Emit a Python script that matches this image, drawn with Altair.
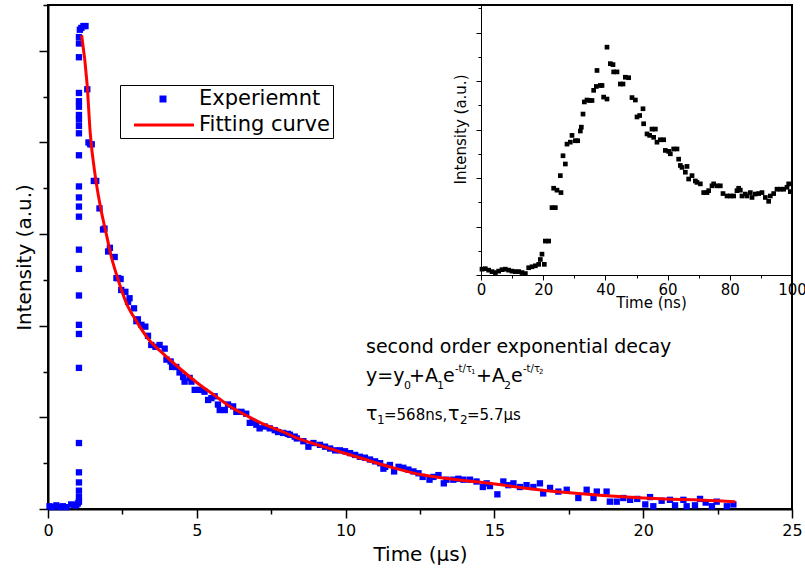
import altair as alt
import pandas as pd

FONT = "DejaVu Sans"

# ---------------- data ----------------
series_names = ["Experiemnt", "Fitting curve"]

exp_x = [0.05, 0.15, 0.28, 0.40, 0.50, 0.62, 0.78, 0.88, 0.95, 1.00,
         1.04, 1.04, 1.04, 1.04, 1.04, 1.04, 1.04, 1.04, 1.04, 1.04,
         1.04, 1.04, 1.04, 1.04, 1.04, 1.04, 1.04, 1.04, 1.04, 1.04,
         1.04, 1.04, 1.04, 1.04, 1.04, 1.04, 1.04,
         1.07, 1.12, 1.19, 1.26,
         1.32, 1.36, 1.42, 1.47, 1.54, 1.62, 1.73, 1.85, 1.90, 2.02,
         2.08, 2.24, 2.30, 2.36, 2.44, 2.46, 2.60, 2.69, 2.74, 2.89,
         2.97, 3.02, 3.14, 3.27, 3.36, 3.47, 3.61, 3.75, 3.92, 3.98,
         4.12, 4.17, 4.31, 4.42, 4.54, 4.59, 4.76, 4.82, 4.93, 5.10,
         5.26, 5.38, 5.49, 5.60, 5.71, 5.77, 5.94, 6.05, 6.22, 6.33,
         6.50, 6.66, 6.78, 6.89, 7.00, 7.11, 7.28, 7.45, 7.62, 7.73,
         7.90, 8.06, 8.13, 8.29, 8.36, 8.58, 8.75, 8.92, 9.14, 9.31,
         9.48, 9.65, 9.81, 9.98, 10.15, 10.32, 10.48, 10.65, 10.82, 10.99,
         11.16, 11.27, 11.33, 11.49, 11.63, 11.78, 11.94, 12.11, 12.28, 12.45,
         12.59, 12.82, 12.95, 13.12, 13.30, 13.39, 13.62, 13.79, 13.96, 14.18,
         14.40, 14.61, 14.74, 14.85, 15.10, 15.30, 15.47, 15.64, 15.86, 16.08,
         16.31, 16.53, 16.64, 16.87, 17.15, 17.43, 17.82, 18.10, 18.33, 18.44,
         18.77, 18.88, 19.11, 19.33, 19.56, 19.80, 20.07, 20.23, 20.34, 20.62,
         20.90, 21.07, 21.35, 21.46, 21.74, 21.91, 22.10, 22.31, 22.47, 22.81,
         23.03]
exp_y = [0.03, 0.02, 0.04, 0.02, 0.03, 0.02, 0.05, 0.04, 0.04, 0.06,
         0.08, 0.13, 0.20, 0.29, 0.40, 0.72, 1.54, 1.91, 2.01, 2.33,
         2.62, 2.83, 3.19, 3.30, 3.40, 3.52, 3.86, 4.10, 4.18, 4.25,
         4.30, 4.39, 4.45, 4.54, 4.93, 5.08, 5.15,
         5.23, 5.25, 5.27, 5.27,
         4.58, 4.00, 3.98, 3.98, 3.58, 3.58, 3.28, 3.05, 3.06, 2.81,
         2.85, 2.75, 2.52, 2.52, 2.51, 2.39, 2.37, 2.26, 2.30, 2.19,
         2.05, 2.07, 2.01, 1.99, 1.89, 1.79, 1.77, 1.79, 1.75, 1.63,
         1.61, 1.55, 1.55, 1.49, 1.44, 1.39, 1.43, 1.39, 1.30, 1.30,
         1.28, 1.19, 1.21, 1.23, 1.14, 1.08, 1.08, 1.14, 1.12, 1.06,
         1.06, 1.04, 0.94, 0.95, 0.92, 0.88, 0.90, 0.88, 0.86, 0.84,
         0.83, 0.82, 0.81, 0.79, 0.77, 0.74, 0.68, 0.72, 0.70, 0.68,
         0.66, 0.64, 0.64, 0.63, 0.61, 0.59, 0.57, 0.56, 0.54, 0.52,
         0.50, 0.44, 0.46, 0.48, 0.41, 0.46, 0.45, 0.43, 0.41, 0.39,
         0.35, 0.32, 0.35, 0.37, 0.28, 0.32, 0.32, 0.33, 0.32, 0.32,
         0.30, 0.24, 0.28, 0.25, 0.16, 0.30, 0.26, 0.28, 0.24, 0.26,
         0.24, 0.28, 0.17, 0.23, 0.19, 0.21, 0.12, 0.21, 0.12, 0.19,
         0.19, 0.08, 0.08, 0.12, 0.10, 0.11, 0.05, 0.13, 0.03, 0.09,
         0.10, 0.04, 0.10, 0.03, 0.04, 0.11, 0.07, 0.03, 0.08, 0.03,
         0.05]

fit_x = [1.13, 1.31, 1.42, 1.59, 1.76, 1.98, 2.13, 2.32, 2.63, 2.97,
         3.36, 3.92, 4.48, 5.04, 5.60, 6.16, 6.72, 7.28, 7.84, 8.40,
         9.25, 10.37, 11.49, 12.61, 13.73, 14.85, 15.97, 17.43, 20.00, 22.47,
         23.09]
fit_y = [5.17, 4.65, 4.10, 3.63, 3.30, 2.97, 2.75, 2.54, 2.25, 2.05,
         1.86, 1.68, 1.52, 1.37, 1.24, 1.11, 1.01, 0.92, 0.85, 0.77,
         0.68, 0.57, 0.46, 0.37, 0.32, 0.28, 0.23, 0.18, 0.12, 0.09,
         0.08]

inset_x = [0.32, 1.39, 2.47, 3.54, 4.61, 5.68, 6.75, 7.82, 8.90, 9.97,
           11.04, 12.11, 13.18, 14.26, 15.33, 16.40, 17.47, 18.54, 19.08, 19.61,
           20.36, 20.69, 21.76, 22.83, 23.90, 23.36, 24.44, 25.72, 25.51, 26.37,
           27.12, 27.65, 28.72, 29.26, 30.33, 31.08, 31.94, 32.26, 32.80, 33.23,
           34.08, 34.94, 35.69, 36.23, 37.08, 37.30, 38.37, 38.91, 39.44, 40.51,
           40.51, 41.59, 42.44, 42.66, 43.73, 44.80, 45.66, 46.41, 47.48, 48.55,
           49.63, 50.16, 51.02, 52.09, 52.30, 53.38, 54.23, 54.98, 56.06, 55.52,
           56.59, 57.66, 58.73, 59.27, 60.34, 60.88, 61.95, 63.02, 63.56, 64.09,
           64.63, 66.24, 65.70, 66.77, 67.85, 68.92, 69.45, 70.53, 71.60, 72.67,
           73.20, 74.28, 74.81, 75.88, 76.95, 77.81, 79.10, 80.17, 81.24, 82.31,
           82.85, 83.39, 83.92, 84.99, 85.53, 86.60, 87.14, 88.21, 89.28, 90.35,
           91.43, 92.50, 93.03, 94.11, 95.18, 96.25, 97.32, 98.39, 98.93, 99.46]
inset_y = [0.12, 0.13, 0.10, 0.07, 0.05, 0.08, 0.11, 0.12, 0.10, 0.08,
           0.07, 0.07, 0.05, 0.03, 0.15, 0.17, 0.19, 0.22, 0.32, 0.43,
           0.22, 0.70, 0.70, 1.39, 1.39, 1.79, 1.75, 1.70, 2.05, 2.46,
           2.29, 2.70, 2.74, 2.88, 2.77, 2.77, 2.97, 3.05, 3.32, 3.57,
           3.61, 3.60, 3.60, 3.81, 3.89, 4.22, 3.91, 3.91, 3.67, 3.63,
           4.70, 4.36, 4.34, 4.19, 4.19, 3.94, 3.94, 4.08, 4.07, 3.66,
           3.61, 3.26, 3.29, 3.43, 3.12, 2.91, 2.88, 3.01, 3.01, 2.84,
           2.74, 2.79, 2.79, 2.57, 2.55, 2.50, 2.60, 2.60, 2.39, 2.26,
           2.22, 2.24, 2.12, 1.98, 2.05, 1.94, 1.91, 1.88, 1.70, 1.70,
           1.74, 1.84, 1.88, 1.84, 1.84, 1.68, 1.63, 1.63, 1.63, 1.74,
           1.79, 1.75, 1.63, 1.67, 1.63, 1.70, 1.60, 1.67, 1.68, 1.70,
           1.60, 1.52, 1.63, 1.68, 1.77, 1.77, 1.77, 1.81, 1.88, 1.72]

main_x_ticks = [0, 2.5, 5, 7.5, 10, 12.5, 15, 17.5, 20, 22.5, 25]
main_y_ticks = [0, 0.5, 1, 1.5, 2, 2.5, 3, 3.5, 4, 4.5, 5, 5.5]
inset_x_ticks = [0, 10, 20, 30, 40, 50, 60, 70, 80, 90, 100]
inset_y_ticks = [0, 0.5, 1, 1.5, 2, 2.5, 3, 3.5, 4, 4.5, 5, 5.5]

exp_df = pd.DataFrame({"t": exp_x, "I": exp_y, "series": series_names[0]})
fit_df = pd.DataFrame({"t": fit_x, "I": fit_y})
ins_df = pd.DataFrame({"tn": inset_x, "In": inset_y})

# ---------------- layout ----------------
W, H = 744, 504
L, T = 48, 5

legend = alt.Legend(
    title=None, orient="none", legendX=72, legendY=80,
    strokeColor="black", fillColor="white", padding=3,
    labelFont=FONT, labelFontSize=21, labelColor="black",
    labelOffset=54, rowPadding=5, symbolOpacity=1,
)

x_main = alt.X(
    "t:Q", scale=alt.Scale(domain=[0, 25], nice=False, zero=False),
    axis=alt.Axis(
        title="Time (µs)", values=main_x_ticks, orient="bottom",
        labelExpr="datum.value % 5 === 0 ? datum.label : ''",
        tickSize={"condition": {"test": "datum.value % 5 === 0", "value": 9}, "value": 5},
        labelFontSize=16, titleFontSize=20, labelPadding=4, titlePadding=6,
        domainWidth=2, tickWidth=1.5, labelFlush=False, labelOverlap=False,
        grid=False,
    ),
)
y_main = alt.Y(
    "I:Q", scale=alt.Scale(domain=[0, 5.5], nice=False, zero=False),
    axis=alt.Axis(
        title="Intensity (a.u.)", values=main_y_ticks, labels=False, orient="left",
        tickSize={"condition": {"test": "datum.value % 1 === 0", "value": 9}, "value": 5},
        titleFontSize=20, titleX=-14, titleY=252, titleAngle=-90,
        titleBaseline="bottom", titleAlign="center",
        domainWidth=2, tickWidth=1.5, grid=False,
    ),
)

# measured points
points = alt.Chart(exp_df).mark_square(color="#0000ff", size=40, opacity=1).encode(
    x=x_main, y=y_main
)

# legend carrier: draws no marks (filtered out), only supplies the legend
legend_layer = alt.Chart(exp_df).transform_filter("false").mark_point(
    filled=True, opacity=1, strokeWidth=0
).encode(
    x="t:Q", y="I:Q",
    color=alt.Color("series:N", scale=alt.Scale(domain=series_names, range=["#0000ff", "#ff0000"]), legend=legend),
    shape=alt.Shape("series:N", scale=alt.Scale(
        domain=series_names,
        range=["M2.55,-0.35H3.25V0.35H2.55Z", "M0,-0.15H6V0.15H0Z"]), legend=legend),
    size=alt.Size("series:N", scale=alt.Scale(type="point", padding=0, domain=series_names, range=[400, 400]), legend=legend),
)

line = alt.Chart(fit_df).mark_line(color="#ff0000", strokeWidth=3, interpolate="monotone").encode(
    x="t:Q", y="I:Q"
)


def label(text, px, py, size):
    return alt.Chart(pd.DataFrame({"s": [text]})).mark_text(
        font=FONT, fontSize=size, align="left", baseline="alphabetic", color="black"
    ).encode(text="s:N", x=alt.value(px - L), y=alt.value(py - T))


texts = [
    label("second order exponential decay", 366, 353, 19),
    label("y=y", 366, 382, 19),
    label("0", 404, 389, 11),
    label("+A", 409, 382, 19),
    label("1", 437, 389, 11),
    label("e", 443, 382, 19),
    label("-t/τ", 455, 372, 10),
    label("1", 471, 374, 7),
    label("+A", 476, 382, 19),
    label("2", 504, 389, 11),
    label("e", 511, 382, 19),
    label("-t/τ", 523, 372, 10),
    label("2", 539, 374, 7),
    label("τ", 366, 420, 19),
    label("1", 377, 424, 12),
    label("=568ns,", 384, 420, 15),
    label("τ", 448, 420, 19),
    label("2", 460, 424, 12),
    label("=5.7µs", 467, 420, 15),
]

inset = alt.Chart(ins_df).mark_square(color="black", size=22, opacity=1).encode(
    x=alt.X(
        "tn:Q", scale=alt.Scale(domain=[0, 100], range=[433, 744], nice=False, zero=False),
        axis=alt.Axis(
            title="Time (ns)", orient="bottom", offset=-234, values=inset_x_ticks,
            labelExpr="datum.value % 20 === 0 ? datum.label : ''",
            tickSize={"condition": {"test": "datum.value % 20 === 0", "value": 5}, "value": 3},
            labelFontSize=15, labelPadding=2, titleFontSize=15,
            titleX=603, titleY=20, titleBaseline="top", titleAlign="center",
            domainWidth=1, tickWidth=1, labelFlush=False, labelOverlap=False, grid=False,
        ),
    ),
    y=alt.Y(
        "In:Q", scale=alt.Scale(domain=[0, 5.57], range=[270, 0], nice=False, zero=False),
        axis=alt.Axis(
            title="Intensity (a.u.)", orient="left", offset=-433, values=inset_y_ticks,
            labels=False,
            tickSize={"condition": {"test": "datum.value % 1 === 0", "value": 5}, "value": 3},
            titleFontSize=15, titleX=-13, titleY=124, titleAngle=-90,
            titleBaseline="bottom", titleAlign="center",
            domainWidth=1, tickWidth=1, grid=False,
        ),
    ),
)

main = alt.layer(points, line, legend_layer, *texts)

chart = (
    alt.layer(main, inset)
    .resolve_scale(x="independent", y="independent")
    .properties(
        width=W, height=H,
        autosize=alt.AutoSizeParams(type="none"),
        padding={"left": L, "top": T, "right": 13, "bottom": 63},
        background="white",
    )
    .configure_view(stroke="black", strokeWidth=2)
    .configure_axis(
        domainColor="black", tickColor="black", labelColor="black", titleColor="black",
        labelFont=FONT, titleFont=FONT, titleFontWeight="normal",
    )
)

chart.save("out.html", embed_options={"renderer": "svg", "actions": False})
